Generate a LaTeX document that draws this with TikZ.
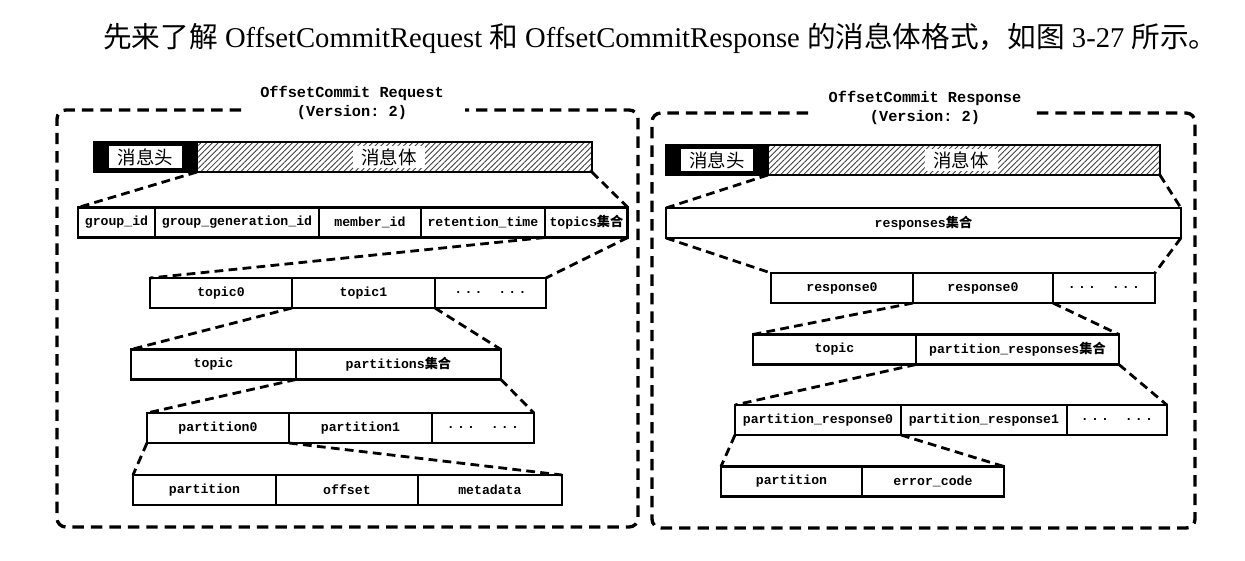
\documentclass[tikz,border=0pt]{standalone}
\usepackage{fontspec}
\setmainfont{Liberation Serif}
\setmonofont{Liberation Mono}
\newfontfamily\cjk{Noto Sans CJK SC}
\usetikzlibrary{positioning,patterns.meta}
\newcommand\cjkb[1]{{\cjk\bfseries #1}}
\newcommand\etcdots{.\,.\,.\ \ .\,.\,.}

\begin{document}
\begin{tikzpicture}[
      x=0.02cm, y=-0.02cm,
      cell/.style={rectangle, draw, line width=1.6pt, fill=white, outer sep=0pt, inner sep=0pt, minimum height=0.6cm, font=\fontsize{7.5}{9}\selectfont\ttfamily\bfseries},
      bar/.style={rectangle, draw, line width=1.6pt, outer sep=0pt, inner sep=0pt, minimum height=0.6cm, pattern={Lines[angle=45,distance=2.3pt,line width=0.5pt]}, pattern color=black!75},
      headbox/.style={rectangle, draw, fill=black, line width=1.6pt, outer sep=0pt, inner sep=0pt, minimum height=0.6cm},
      hlabel/.style={rectangle, fill=white, inner sep=0pt, minimum width=1.46cm, minimum height=0.44cm, font=\cjk\fontsize{10.5}{12}\selectfont},
      zoomline/.style={line width=1.6pt, dash pattern=on 5pt off 3pt},
      msgframe/.style={line width=1.9pt, dash pattern=on 6.5pt off 4pt, rounded corners=5pt},
      msgtitle/.style={align=center, inner sep=0pt, font=\fontsize{8.7}{11.3}\selectfont\ttfamily\bfseries}
    ]
      \fill[white] (0,0) rectangle (1245,561);
      \useasboundingbox (0,0) rectangle (1245,561);
      \node[anchor=west, inner sep=0pt, font=\fontsize{16.3}{19}\selectfont] (intro) at (103,38) {{\cjk 先来了解} OffsetCommitRequest {\cjk 和} OffsetCommitResponse {\cjk 的消息体格式，如图} 3-27 {\cjk 所示。}};

      \draw[msgframe] (241,110) -- (57,110) -- (57,527) -- (638,527) -- (638,110) -- (465,110);
      \draw[msgframe] (808,113) -- (652,113) -- (652,528) -- (1195,528) -- (1195,113) -- (1034,113);
      \node[msgtitle] (lreq) at (352,103) {OffsetCommit Request\\(Version: 2)};
      \node[msgtitle] (rresp) at (925,108) {OffsetCommit Response\\(Version: 2)};

      \node[bar, minimum width=9.96cm, anchor=west] (lbar) at (94,157) {};
      \node[headbox, minimum width=2.06cm, anchor=west] (lhead) at (94,157) {};
      \node[hlabel] (lhl) at (lhead) {消息头};
      \node[hlabel] (lbl) at (389,157) {消息体};

      \node[cell, minimum width=1.54cm, anchor=west] (gid) at (78,222.5) {group\_id};
      \node[cell, minimum width=3.28cm, right=0pt of gid] (ggid) {group\_generation\_id};
      \node[cell, minimum width=2.04cm, right=0pt of ggid] (mid) {member\_id};
      \node[cell, minimum width=2.48cm, right=0pt of mid] (rtime) {retention\_time};
      \node[cell, minimum width=1.66cm, right=0pt of rtime] (tps) {topics\cjkb{集合}};

      \node[cell, minimum width=2.84cm, anchor=west] (tp0) at (150,293) {topic0};
      \node[cell, minimum width=2.86cm, right=0pt of tp0] (tp1) {topic1};
      \node[cell, minimum width=2.22cm, right=0pt of tp1] (tpdots) {\etcdots};

      \node[cell, minimum width=3.3cm, anchor=west] (tpc) at (131,364.5) {topic};
      \node[cell, minimum width=4.1cm, right=0pt of tpc] (parts) {partitions\cjkb{集合}};

      \node[cell, minimum width=2.84cm, anchor=west] (pt0) at (147,428) {partition0};
      \node[cell, minimum width=2.86cm, right=0pt of pt0] (pt1) {partition1};
      \node[cell, minimum width=2.04cm, right=0pt of pt1] (ptdots) {\etcdots};

      \node[cell, minimum width=2.86cm, anchor=west] (ptn) at (133,490) {partition};
      \node[cell, minimum width=2.84cm, right=0pt of ptn] (ofs) {offset};
      \node[cell, minimum width=2.88cm, right=0pt of ofs] (meta) {metadata};

      \draw[zoomline] (lhead.south east) -- (gid.north west);
      \draw[zoomline] (lbar.south east) -- (tps.north east);
      \draw[zoomline] (tps.south west) -- (tp0.north west);
      \draw[zoomline] (tps.south east) -- (tpdots.north east);
      \draw[zoomline] (tp1.south west) -- (tpc.north west);
      \draw[zoomline] (tp1.south east) -- (parts.north east);
      \draw[zoomline] (parts.south west) -- (pt0.north west);
      \draw[zoomline] (parts.south east) -- (ptdots.north east);
      \draw[zoomline] (pt0.south west) -- (ptn.north west);
      \draw[zoomline] (pt0.south east) -- (meta.north east);

      \node[bar, minimum width=9.88cm, anchor=west] (rbar) at (666,160) {};
      \node[headbox, minimum width=2.04cm, anchor=west] (rhead) at (666,160) {};
      \node[hlabel] (rhl) at (rhead) {消息头};
      \node[hlabel] (rbl) at (961,160) {消息体};

      \node[cell, minimum width=10.3cm, anchor=west] (resps) at (666,223) {responses\cjkb{集合}};

      \node[cell, minimum width=2.84cm, anchor=west] (rs0) at (771,288) {response0};
      \node[cell, minimum width=2.8cm, right=0pt of rs0] (rs1) {response0};
      \node[cell, minimum width=2.04cm, right=0pt of rs1] (rsdots) {\etcdots};

      \node[cell, minimum width=3.26cm, anchor=west] (rtpc) at (753,349.5) {topic};
      \node[cell, minimum width=4.06cm, right=0pt of rtpc] (prs) {partition\_responses\cjkb{集合}};

      \node[cell, minimum width=3.32cm, anchor=west] (pr0) at (735,420) {partition\_response0};
      \node[cell, minimum width=3.32cm, right=0pt of pr0] (pr1) {partition\_response1};
      \node[cell, minimum width=2cm, right=0pt of pr1] (prdots) {\etcdots};

      \node[cell, minimum width=2.82cm, anchor=west] (rptn) at (721,481.5) {partition};
      \node[cell, minimum width=2.84cm, right=0pt of rptn] (err) {error\_code};

      \draw[zoomline] (rhead.south east) -- (resps.north west);
      \draw[zoomline] (rbar.south east) -- (resps.north east);
      \draw[zoomline] (resps.south west) -- (rs0.north west);
      \draw[zoomline] (resps.south east) -- (rsdots.north east);
      \draw[zoomline] (rs1.south west) -- (rtpc.north west);
      \draw[zoomline] (rs1.south east) -- (prs.north east);
      \draw[zoomline] (prs.south west) -- (pr0.north west);
      \draw[zoomline] (prs.south east) -- (prdots.north east);
      \draw[zoomline] (pr0.south west) -- (rptn.north west);
      \draw[zoomline] (pr0.south east) -- (err.north east);
    \end{tikzpicture}
\end{document}
